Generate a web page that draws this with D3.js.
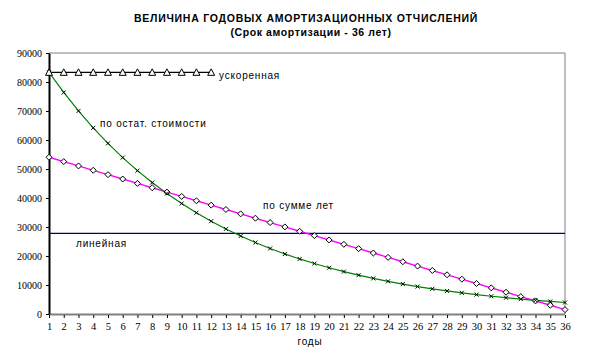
<!DOCTYPE html>
<html><head><meta charset="utf-8">
<script src="https://cdn.jsdelivr.net/npm/d3@7"></script>
<style>body{margin:0;background:#fff}svg{display:block}</style>
</head><body>
<svg id="c" width="589" height="359"></svg>
<script>
const years = d3.range(1, 37);
const yTicks = [0,10000,20000,30000,40000,50000,60000,70000,80000,90000];
const accelerated = [83333,83333,83333,83333,83333,83333,83333,83333,83333,83333,83333,83333];
const declining = [83333,76389,70023,64188,58839,53936,49441,45321,41544,38082,34909,32000,29333,26889,24648,22594,20711,18985,17403,15953,14624,13405,12288,11264,10325,9465,8676,7953,7290,6683,6126,5615,5147,4718,4325,3965];
const sumYears = [54054,52553,51051,49550,48048,46547,45045,43544,42042,40541,39039,37538,36036,34535,33033,31532,30030,28529,27027,25526,24024,22523,21021,19520,18018,16517,15015,13514,12012,10511,9009,7508,6006,4505,3003,1502];
const linear = [27778,27778];
const labels = [
  {t:"ускоренная", x:219, y:79},
  {t:"по остат. стоимости", x:100, y:127},
  {t:"по сумме лет", x:263, y:209},
  {t:"линейная", x:76, y:247}
];

const svg = d3.select("#c");
const L=49, R=565, T=53, B=314;
const x = d3.scaleLinear().domain([1,36]).range([L,R]);
const y = d3.scaleLinear().domain([0,90000]).range([B,T]);

svg.append("text").attr("x",306).attr("y",22).attr("text-anchor","middle")
  .attr("font-family","Liberation Sans, Arial").attr("font-weight","bold").attr("font-size",10.5)
  .attr("letter-spacing","0.75").text("ВЕЛИЧИНА ГОДОВЫХ АМОРТИЗАЦИОННЫХ ОТЧИСЛЕНИЙ");
svg.append("text").attr("x",311).attr("y",36).attr("text-anchor","middle")
  .attr("font-family","Liberation Sans, Arial").attr("font-weight","bold").attr("font-size",10.5)
  .attr("letter-spacing","0.6").text("(Срок амортизации - 36 лет)");

// frame
svg.append("path").attr("d",`M${L},${T}H${R}V${B}`).attr("fill","none").attr("stroke","#808080").attr("stroke-width",1);
svg.append("line").attr("x1",L).attr("x2",R).attr("y1",B+0.5).attr("y2",B+0.5).attr("stroke","#808080").attr("stroke-width",2);

// y axis
const ya = svg.append("g").attr("transform",`translate(${L},0)`)
  .call(d3.axisLeft(y).tickValues(yTicks).tickSize(3).tickSizeOuter(0).tickFormat(d3.format("d")));
ya.select(".domain").attr("stroke","#000").attr("stroke-width",2);
ya.selectAll("text").attr("font-family","Liberation Serif, Times New Roman").attr("font-size",10).attr("fill","#000").attr("dx",-1);

// x axis
const xa = svg.append("g").attr("transform",`translate(0,${B+1})`)
  .call(d3.axisBottom(x).tickValues(years).tickSize(3).tickSizeOuter(0).tickFormat(d3.format("d")));
xa.select(".domain").remove();
xa.selectAll("text").attr("font-family","Liberation Serif, Times New Roman").attr("font-size",10.5).attr("fill","#000").attr("dy","0.9em");

// linear
svg.append("line").attr("x1",L).attr("x2",R).attr("y1",y(linear[0])).attr("y2",y(linear[1]))
  .attr("stroke","#000080").attr("stroke-width",1.2);

const line = d3.line().x((d,i)=>x(i+1)).y(d=>y(d));

svg.append("path").datum(sumYears).attr("d",line).attr("fill","none").attr("stroke","#ff00ff").attr("stroke-width",1.4);
svg.append("path").datum(declining).attr("d",line).attr("fill","none").attr("stroke","#008000").attr("stroke-width",1.2);
svg.append("path").datum(accelerated).attr("d",line).attr("fill","none").attr("stroke","#000").attr("stroke-width",1.2);

svg.append("g").selectAll("path").data(sumYears).join("path")
  .attr("transform",(d,i)=>`translate(${x(i+1)},${y(d)})`)
  .attr("d","M0,-3L3,0L0,3L-3,0Z").attr("fill","#fff").attr("stroke","#000").attr("stroke-width",1);
svg.append("g").selectAll("path").data(declining).join("path")
  .attr("transform",(d,i)=>`translate(${x(i+1)},${y(d)})`)
  .attr("d","M-2,-2L2,2M-2,2L2,-2").attr("stroke","#000").attr("stroke-width",1);
svg.append("g").selectAll("path").data(accelerated).join("path")
  .attr("transform",(d,i)=>`translate(${x(i+1)},${y(d)})`)
  .attr("d","M0,-3.5L3.5,3L-3.5,3Z").attr("fill","#fff").attr("stroke","#000").attr("stroke-width",1);

svg.append("g").selectAll("text").data(labels).join("text")
  .attr("x",d=>d.x).attr("y",d=>d.y).text(d=>d.t)
  .attr("font-family","Liberation Sans, Arial").attr("font-size",10).attr("letter-spacing","0.8").attr("fill","#000");

svg.append("text").attr("x",310).attr("y",345).attr("text-anchor","middle")
  .attr("font-family","Liberation Sans, Arial").attr("font-size",10).attr("letter-spacing","0.8").text("годы");
</script>
</body></html>
